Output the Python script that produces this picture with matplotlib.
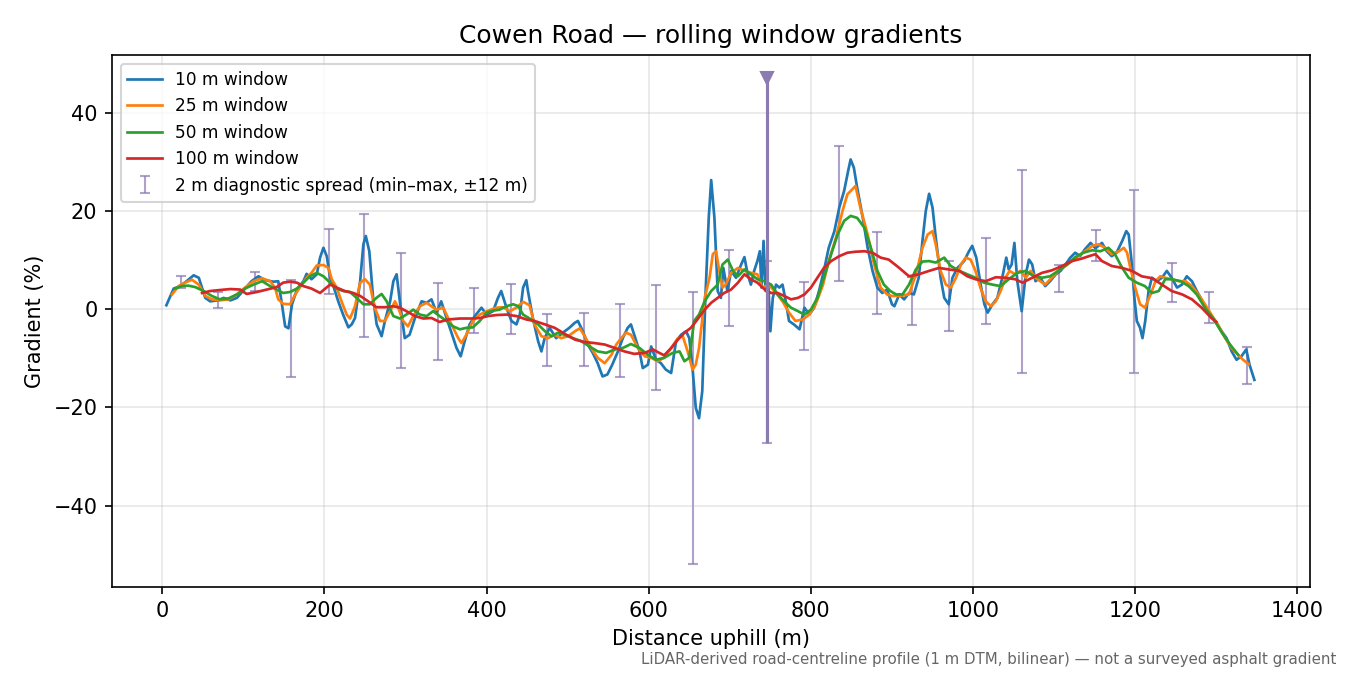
import numpy as np
import matplotlib.pyplot as plt

# ── DATA ──────────────────────────────────────────────────────────────────────
d10 = [5, 14, 22, 30, 38.6, 45, 53, 59, 69, 75.5, 84, 92, 102, 110, 118.6, 127, 137, 143,
       147, 151.5, 155.6, 160, 166, 174, 178, 184, 190.5, 194.6, 198.7, 202.8, 207, 211, 217,
       223, 229.5, 233.6, 237.7, 244, 248, 251, 255.3, 260, 264.4, 270.5, 274.6, 281, 285, 289,
       293, 299, 305, 311.6, 319.8, 326, 332, 338.3, 344, 350.6, 356.7, 362.9, 368, 373, 379,
       385.5, 393.7, 400, 408, 414, 418, 424.5, 430.6, 436.8, 441, 445, 449,
       451, 457, 463.5, 467.6, 471.6, 477.7, 485.8, 494, 502, 508.6, 512.6, 518.7, 524.8, 530.9,
       537, 543, 549, 555, 562, 568, 574, 578, 582, 588.6, 592.6, 599, 603, 609, 615, 621,
       627.6, 633.7, 640, 646, 650, 654, 658, 662, 666, 670, 674, 677, 681, 685, 689, 692,
       697, 701.6, 707.6, 714, 718, 722, 726, 730, 734, 737, 739, 741.6, 744, 747.5, 750, 753,
       757, 761, 765, 769, 773, 779, 786, 792, 798, 804, 810, 816, 822, 829, 835, 841, 846,
       849, 853, 857, 864, 870, 876, 882, 888, 894, 900,
       903, 909, 915, 921, 927, 933, 937.6, 941.7, 945.8, 950, 954, 960, 964.5, 970, 974.6,
       980.7, 985, 989, 995, 999, 1004, 1009.4, 1014, 1018, 1024, 1030, 1036, 1041, 1044,
       1047.6, 1051, 1054.6, 1060, 1065, 1069, 1073, 1077, 1083, 1089, 1095, 1102, 1108, 1114,
       1120, 1126, 1132, 1138, 1145, 1151, 1159, 1165, 1171, 1177, 1184, 1189, 1192, 1195.5,
       1199, 1202, 1206, 1209, 1212.4, 1216.5, 1220.6, 1226.7, 1233, 1239, 1245, 1251.6,
       1257.6, 1263.6, 1270, 1276, 1284, 1292, 1300, 1306.6, 1312.7, 1319, 1325, 1331, 1337,
       1341, 1347]
g10 = [0.8, 4.2, 4.7, 5.7, 6.9, 6.4, 2.3, 1.6, 1.8, 2.3, 1.8, 2.3, 4.2, 5.7, 6.7, 5.9, 5.6, 5.7,
       1.6, -3.5, -3.9, 1.0, 4.0, 5.7, 7.2, 6.1, 7.1, 10.5, 12.5, 10.8, 6.4, 4.7, 1.6,
       -1.1, -3.7, -3.1, -1.8, 5.7, 13.2, 14.9, 11.8, 2.3, -3.1, -5.5, -2.4, 1.6, 5.7, 7.1,
       1.6, -5.9, -5.2, -1.8, 1.6, 1.3, 2.0, -0.7, 1.6, -1.8, -4.8, -7.9, -9.6, -6.5, -3.1,
       -1.4, 0.3, -1.1, -0.4, 2.3, 3.7, 0.3, -2.4, -3.1, -1.1, 4.4, 5.9,
       3.7, -1.8, -6.5, -8.6, -5.9, -3.8, -5.9, -4.8, -3.8, -2.8, -2.4, -4.5, -7.2, -8.9,
       -11.0, -13.7, -13.3, -11.3, -8.6, -5.9, -3.8, -3.1, -5.2, -8.6, -12.0, -11.3, -7.6, -10.3, -11.0, -12.3,
       -13.0, -6.5, -5.2, -4.5, -5.9, -12.0, -20.1, -22.2, -16.7, 3.0, 18.6, 26.3, 18.6, 3.7, 2.3, 8.4,
       3.7, 7.8, 6.4, 9.1, 10.6, 7.1, 5.0, 7.8, 9.8, 11.8, 4.4, 13.9, 3.7, 5.0, -4.5, 2.3,
       5.0, 4.4, 5.0, 1.6, -2.4, -3.1, -4.1, 0.3, -1.1, 0.3, 3.7, 7.8, 12.5, 15.9, 20.7, 24.1, 28.2,
       30.5, 28.8, 24.8, 18.6, 12.5, 7.8, 4.4, 3.3, 4.0, 1.0,
       0.6, 3.0, 2.0, 3.3, 3.0, 6.4, 13.9, 20.0, 23.5, 20.7, 14.6, 6.4, 2.3, 1.0, 6.4,
       8.4, 9.1, 9.8, 11.8, 12.9, 10.5, 5.0, 1.0, -0.7, 1.0, 2.3, 6.4, 10.5, 8.1,
       9.1, 13.5, 5.7, -0.4, 7.1, 10.1, 9.1, 5.7, 6.4, 4.7, 5.7, 7.1, 7.8, 9.1,
       10.5, 11.5, 10.8, 12.2, 13.5, 12.4, 13.5, 11.8, 10.8, 11.5, 13.9, 15.9, 15.2, 9.8,
       2.3, -2.4, -3.8, -5.9, -2.4, 3.7, 6.4, 5.7, 6.4, 7.8, 6.4, 4.4,
       5.0, 6.7, 5.7, 3.7, 1.3, -1.1, -2.8, -4.5, -5.9, -8.6, -10.3, -9.6, -8.2,
       -11.3, -14.4]

d25 = [12, 20, 28, 36.5, 45, 53, 61, 71, 81.6, 92, 102, 112.5, 123, 133, 139, 143, 149, 157.6,
       164, 170, 178, 184, 190.5, 198.7, 205, 209, 215, 221, 227.4, 231.5, 237.7, 244, 250,
       256, 262, 268.5, 274.6, 281, 287, 291, 297, 303, 309.5, 317.7, 326, 332, 338, 346.5,
       352.6, 358.8, 365, 369, 375, 383, 391.6, 402, 412, 420, 428.6, 436.8, 445,
       453, 459, 467.6, 475.8, 484, 492, 500.6, 509, 515, 521, 529, 537, 545.6, 554, 560, 566,
       572, 578, 586.6, 595, 603, 611, 619, 627.7, 636, 642, 648, 654, 658, 662, 669, 675,
       679, 683, 687, 691, 695, 701.6, 710, 718, 726, 734, 740, 748, 757, 765, 773, 781, 790,
       798, 806, 815, 822, 831, 839, 845, 851, 855, 861, 870, 878, 886, 894, 900,
       909, 921, 929.5, 937.6, 944, 950, 954, 960, 966.5, 972.5, 979, 985, 991, 997, 1003,
       1009, 1015.6, 1022, 1028, 1034, 1040, 1045, 1052, 1058.5, 1065, 1071, 1077, 1083,
       1089, 1097, 1105, 1114, 1122, 1130, 1138, 1147, 1155, 1163, 1171, 1180, 1186, 1190,
       1194, 1200, 1206, 1212, 1219, 1225, 1231, 1237, 1245, 1254, 1262, 1270, 1278, 1286,
       1294, 1302, 1311, 1319, 1327, 1333, 1340]
g25 = [3.0, 4.7, 5.4, 6.0, 5.0, 2.7, 2.0, 1.8, 2.0, 3.0, 4.4, 5.7, 6.3, 5.7, 4.4, 2.0, 1.1, 1.0,
       3.0, 4.5, 6.4, 7.4, 8.9, 9.0, 8.4, 6.1, 4.4, 1.6, -1.1, -1.9, 0.6, 5.4, 6.1,
       5.0, 0.3, -2.4, -2.4, -0.4, 1.6, 0.3, -2.4, -3.5, -1.4, 0.6, 1.3, 0.6, -0.1, 0.3,
       -1.8, -3.8, -5.9, -6.9, -5.2, -2.4, -1.1, -0.3, 0.3, 0.4, -0.4, 0.3, 1.5,
       0.8, -3.1, -5.5, -5.9, -5.2, -5.9, -5.5, -4.5, -3.9, -5.5, -7.9, -9.9, -11.0, -9.3, -7.2, -5.9,
       -4.8, -5.2, -7.9, -9.6, -9.9, -10.6, -9.9, -7.9, -5.9, -5.5, -8.6, -12.3, -11.3, -7.9, 2.3, 6.4,
       11.2, 11.8, 7.8, 4.4, 5.0, 7.4, 8.4, 7.8, 7.4, 7.1, 4.4, 5.0, 3.3, 1.6, -0.7, -2.4, -2.1,
       -1.1, 1.0, 5.0, 9.8, 14.6, 20.0, 23.4, 24.4, 25.1, 20.7, 15.2, 9.1, 4.4, 3.0, 2.7,
       2.7, 3.0, 7.1, 12.5, 15.2, 15.9, 13.2, 7.8, 5.0, 4.4, 6.4, 9.1, 10.5, 10.1, 7.8,
       4.4, 1.6, 0.6, 1.6, 3.7, 6.4, 7.8, 7.1, 7.8, 6.4, 7.8, 6.4, 5.7,
       5.0, 6.4, 7.8, 8.8, 9.8, 10.8, 11.8, 12.9, 13.2, 12.5, 11.2, 11.8, 12.5, 11.5,
       8.4, 4.4, 1.0, 0.3, 3.0, 5.7, 6.7, 6.4, 6.1, 5.7, 5.7, 4.7, 3.0, 1.0,
       -1.1, -3.1, -5.9, -7.9, -9.3, -10.3, -11.2]

d50 = [16, 24, 32, 40.6, 51, 61, 71, 81.7, 92, 102, 112.5, 123, 133, 141, 149, 157.6, 166, 174,
       182, 190.5, 198.7, 207, 215, 223, 231.5, 239.7, 248, 256, 264, 270.5, 276.7, 285, 293,
       301, 309.5, 317.7, 326, 334, 342, 350.6, 358.8, 367, 375, 383, 391.6, 400, 408, 416,
       424.5, 432.7, 439, 445, 453,
       463.5, 472, 480, 488, 496, 506.6, 516.6, 527, 537, 547.6, 558, 568, 578, 588.6, 599,
       609, 619, 629.6, 638, 644, 650, 656, 662, 669, 677, 685, 691, 697.5, 704, 710, 718,
       726, 734, 743, 751, 759, 767, 775.5, 784, 792, 800, 808, 816, 825, 833, 841, 849, 857,
       866, 874, 882, 890, 898,
       905, 913, 921, 929.5, 937.6, 945.8, 954, 964.5, 972.5, 983, 993, 1003, 1013.6, 1024,
       1034, 1044, 1054.6, 1065, 1075, 1085, 1095, 1105, 1116, 1126, 1136, 1147, 1157, 1167,
       1175, 1184, 1192, 1202, 1212, 1220.6, 1229, 1237, 1245, 1256, 1266, 1276, 1286, 1297,
       1307, 1317, 1327]
g50 = [4.2, 4.7, 4.8, 4.5, 3.7, 2.7, 2.0, 2.2, 3.0, 4.2, 5.0, 5.7, 4.7, 4.0, 3.3, 3.5, 4.2, 5.4,
       6.7, 7.4, 6.7, 5.4, 4.2, 3.7, 3.5, 2.3, 1.0, 1.0, 2.3, 3.1, 1.6, -1.4, -1.9,
       -1.1, -0.1, -1.1, -1.4, -0.4, -1.4, -2.4, -3.5, -4.1, -3.8, -3.7, -2.4, -0.7, -0.3, -0.1,
       0.6, 1.0, 0.6, -1.1, -1.9,
       -3.1, -4.5, -5.5, -4.8, -5.2, -5.9, -6.5, -7.6, -8.6, -8.9, -8.2, -7.9, -7.1, -7.9, -9.3,
       -10.3, -9.9, -8.9, -8.6, -10.6, -9.9, -2.4, -1.1, 1.6, 3.7, 5.0, 9.1, 10.1, 7.8, 6.7, 8.1,
       7.1, 6.1, 5.7, 5.0, 3.0, 1.6, 0.3, -0.4, -1.1, -0.1, 2.3, 6.4, 11.2, 15.2, 18.0, 19.0, 18.6,
       16.6, 12.5, 7.8, 5.0, 3.7,
       3.0, 3.0, 5.0, 8.1, 9.7, 9.8, 9.5, 10.5, 8.8, 7.8, 7.1, 6.4, 5.4, 5.0,
       4.7, 6.1, 7.4, 7.8, 6.7, 6.4, 6.7, 7.8, 9.1, 10.6, 11.5, 12.0, 11.8, 12.5,
       11.2, 8.4, 6.4, 5.4, 4.7, 3.3, 3.7, 6.1, 6.1, 5.7, 4.7, 3.0, 0.3, -2.1,
       -4.8, -7.2, -9.3]

d100 = [49, 59, 71, 84, 96, 104, 116.6, 129, 141, 149, 157.6, 166, 174, 184, 194.6, 201, 207,
        215, 225, 235.6, 244, 254, 264, 274.6, 285, 293, 301, 311.6, 322, 332, 342, 352.6, 367,
        381, 391.6, 402, 412, 424.5, 436.8, 449,
        459, 472, 484, 496, 509, 521, 533, 545.6, 558, 570, 582, 595, 605, 613, 619, 627.7,
        636, 644, 652, 660, 669, 677, 685, 693, 701.6, 710, 718, 726, 734, 743, 751, 759, 767,
        775.5, 784, 792, 800, 808, 816, 825, 835, 845, 855, 866, 876, 886, 896,
        909, 921, 933, 945.8, 958, 970, 983, 993, 1003, 1015.6, 1028, 1040, 1052, 1061, 1073,
        1085, 1097, 1110, 1122, 1134, 1143, 1151, 1159, 1171, 1184, 1196, 1208, 1221, 1233,
        1245, 1258, 1270, 1282, 1294, 1300]
g100 = [3.3, 3.7, 3.9, 4.1, 4.0, 3.1, 3.5, 4.0, 4.5, 5.4, 5.6, 5.4, 4.7, 4.2, 3.3, 4.2, 5.0,
        4.4, 3.7, 3.3, 2.7, 1.6, 0.4, 0.4, 0.6, 0.3, -0.4, -1.4, -1.9, -1.8, -2.6, -2.1, -1.9,
        -1.9, -1.8, -1.4, -1.2, -1.1, -1.4, -2.1,
        -2.4, -3.1, -3.8, -5.0, -6.2, -6.7, -6.9, -7.2, -7.9, -8.6, -9.1, -8.9, -8.2, -8.9, -9.4, -7.9,
        -6.2, -4.8, -3.8, -2.1, -0.1, 1.3, 2.3, 3.3, 4.0, 5.4, 7.1, 6.1, 5.4, 4.0, 3.3, 3.3, 2.7,
        2.0, 2.3, 3.0, 4.4, 6.4, 8.4, 9.8, 10.8, 11.5, 11.7, 11.8, 11.5, 10.5, 10.1,
        8.4, 6.7, 7.1, 7.8, 8.4, 8.1, 7.8, 6.7, 6.1, 5.7, 6.5, 6.4, 6.1, 5.4, 6.4,
        7.4, 7.9, 8.8, 9.8, 10.3, 10.8, 11.2, 9.8, 8.8, 8.4, 7.8, 6.7, 6.3, 5.0,
        3.7, 3.0, 2.0, 0.3, -1.8, -2.6]

# 2 m diagnostic spread, min-max over +/-12 m
spread_x   = [23, 69, 114, 159, 206, 249, 294, 340, 384, 430, 474, 520, 565, 609, 655,
              699, 792, 835, 881, 925, 970, 1016, 1060, 1106, 1152, 1199, 1246, 1291, 1338]
spread_min = [4.3, 0.3, 3.7, -13.8, 3.1, -5.6, -12.0, -10.3, -4.8, -5.0, -11.6, -11.6, -13.8,
              -16.5, -52.0, -3.5, -8.3, 5.8, -1.0, -3.2, -4.4, -3.0, -12.9, 3.5, 9.8, -12.9,
              1.4, -2.9, -15.2]
spread_max = [6.7, 3.5, 7.5, 5.9, 16.4, 19.4, 11.4, 5.4, 4.3, 5.2, -1.0, -0.7, 1.1, 5.0, 3.5,
              12.0, 5.5, 33.3, 15.8, 6.5, 9.8, 14.5, 28.4, 9.0, 16.1, 24.2, 9.5, 3.4, -7.8]
# spread that runs off the plotted scale (top clipped, marked with a triangle)
clip_x, clip_min, clip_top = 746, -27.3, 47.0

# ── FIGURE ────────────────────────────────────────────────────────────────────
fig, ax = plt.subplots(figsize=(9, 4.5), dpi=150)
fig.subplots_adjust(left=0.083, right=0.970, top=0.918, bottom=0.131)

c_spread = "#8c7ab4"
ax.errorbar(spread_x,
            [(lo + hi) / 2 for lo, hi in zip(spread_min, spread_max)],
            yerr=[[(hi - lo) / 2 for lo, hi in zip(spread_min, spread_max)]] * 2,
            fmt="none", ecolor=c_spread, elinewidth=1.0, capsize=2.5, alpha=0.7,
            zorder=1, label="2 m diagnostic spread (min\u2013max, \u00b112 m)")
ax.errorbar([clip_x], [(clip_min + clip_top) / 2],
            yerr=[[(clip_top - clip_min) / 2], [0]],
            fmt="none", ecolor=c_spread, elinewidth=1.0, capsize=2.5, alpha=0.7, zorder=1)
ax.vlines(clip_x, clip_min, clip_top, color="#8a7bb0", lw=1.5, zorder=5)
ax.plot([clip_x], [clip_top], marker="v", ms=6, color="#8a7bb0", zorder=5)

ax.plot(d10, g10, color="#1f77b4", lw=1.3, label="10 m window", zorder=2)
ax.plot(d25, g25, color="#ff7f0e", lw=1.3, label="25 m window", zorder=3)
ax.plot(d50, g50, color="#2ca02c", lw=1.3, label="50 m window", zorder=3)
ax.plot(d100, g100, color="#d62728", lw=1.3, label="100 m window", zorder=4)

ax.set_xlim(-62, 1415)
ax.set_ylim(-56.5, 51.7)
ax.grid(alpha=0.3)
ax.set_xlabel("Distance uphill (m)", fontsize=10)
ax.set_ylabel("Gradient (%)", fontsize=10)
ax.set_title("Cowen Road \u2014 rolling window gradients", fontsize=12)
ax.tick_params(labelsize=10)

h, l = ax.get_legend_handles_labels()
ax.legend(h, l, loc="upper left", fontsize=8.2)

fig.text(0.99, 0.012,
         "LiDAR-derived road-centreline profile (1 m DTM, bilinear) \u2014 not a surveyed asphalt gradient",
         ha="right", va="bottom", fontsize=7.2, color="#666666")

fig.savefig("out.png", dpi=150)
